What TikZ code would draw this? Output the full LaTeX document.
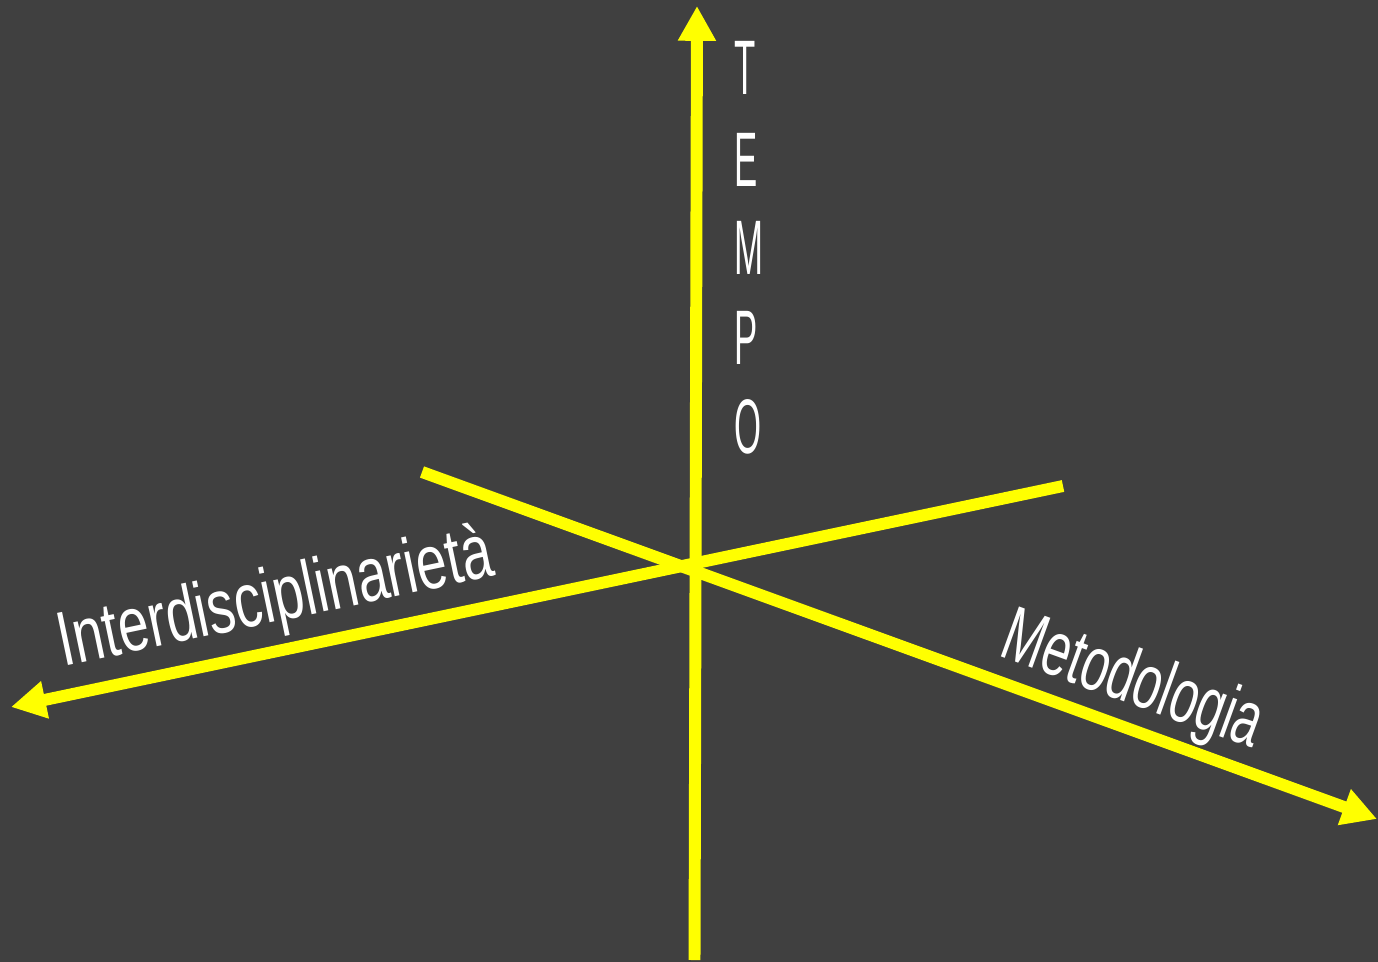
\documentclass[tikz,border=0pt]{standalone}
\usepackage{fontspec}
\setmainfont{Liberation Sans}
\usetikzlibrary{arrows.meta}
\definecolor{bggrey}{HTML}{404040}
\definecolor{axyellow}{HTML}{FFFF00}
\tikzset{
  % --- axes ------------------------------------------------------------------
  axis/.style={draw=axyellow,line width=6.8pt},
  axisarr/.style={axis,-{Triangle[length=19.8pt,width=20.4pt]}},
  % --- labels ----------------------------------------------------------------
  axlab/.style={text=white,inner sep=0pt,font=\fontsize{44}{44}\selectfont},
}

\begin{document}
\begin{tikzpicture}[x=0.02cm, y=-0.02cm]

  % background, fixes the page size
  \path[use as bounding box,fill=bggrey] (0,0) rectangle (1378,962);

  % axis end points
  \coordinate (tbot) at (694.5,960);
  \coordinate (ttop) at (697,6);
  \coordinate (mstart) at (422,472);
  \coordinate (mend)   at (1377,819);
  \coordinate (istart) at (1063,486);
  \coordinate (iend)   at (11,707);

  \draw[axisarr] (tbot) -- (ttop);
  \draw[axisarr] (mstart) -- (mend);
  \draw[axisarr] (istart) -- (iend);

  % vertical label
  \foreach \l/\yy [count=\i] in {T/68,E/160,M/248,P/338,O/427}
    \node[axlab,anchor=west] (tempo\i) at (734,\yy) {\scalebox{0.45}[1]{\l}};

  \node[axlab,anchor=base,rotate=11.86] (interd) at (280,621)
    {\scalebox{0.71}[1]{Interdisciplinarietà}};
  \node[axlab,anchor=base,rotate=-19.95] (metod) at (1125,702)
    {\scalebox{0.645}[1]{Metodologia}};
\end{tikzpicture}
\end{document}
